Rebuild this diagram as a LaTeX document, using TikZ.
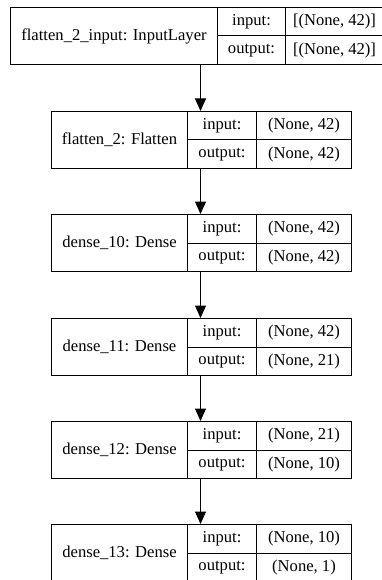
\documentclass[tikz,border=0pt]{standalone}
\usepackage{fontspec}
\setmainfont{Liberation Serif}
\usetikzlibrary{arrows.meta}
\newcommand\mklayer[9]{%
  \node[cell, minimum width={#3-#2}, minimum height=57] (#1) at (#2,#6) {#7};
  \node[cell, minimum width={#4-#3}, minimum height=28.5] (#1in) at (#3,#6) {input:};
  \node[cell, minimum width={#4-#3}, minimum height=28.5] (#1out) at (#3,#6+28.5) {output:};
  \node[cell, minimum width={#5-#4}, minimum height=28.5] (#1inv) at (#4,#6) {#8};
  \node[cell, minimum width={#5-#4}, minimum height=28.5] (#1outv) at (#4,#6+28.5) {#9};
}
\begin{document}
\begin{tikzpicture}[x=1pt,y=-1pt, font=\fontsize{16.6}{20}\selectfont,
  cell/.style={draw, line width=1pt, inner sep=0pt, anchor=north west},
  arr/.style={line width=1pt, -{Triangle[length=12.5pt,width=11pt]}}]
\useasboundingbox (0,0) rectangle (382,580);
\mklayer{a}{10}{217}{285}{383}{7}{flatten\_2\_input: InputLayer}{[(None, 42)]}{[(None, 42)]}
\mklayer{b}{51}{187}{256}{351}{111}{flatten\_2: Flatten}{(None, 42)}{(None, 42)}
\mklayer{c}{51}{187}{256}{351}{214}{dense\_10: Dense}{(None, 42)}{(None, 42)}
\mklayer{d}{51}{187}{256}{351}{318}{dense\_11: Dense}{(None, 42)}{(None, 21)}
\mklayer{e}{51}{187}{256}{351}{421}{dense\_12: Dense}{(None, 21)}{(None, 10)}
\mklayer{f}{51}{187}{256}{351}{524}{dense\_13: Dense}{(None, 10)}{(None, 1)}
\coordinate (ax) at (200.5,0);
\draw[arr] (ax |- a.south) -- (ax |- b.north);
\draw[arr] (ax |- b.south) -- (ax |- c.north);
\draw[arr] (ax |- c.south) -- (ax |- d.north);
\draw[arr] (ax |- d.south) -- (ax |- e.north);
\draw[arr] (ax |- e.south) -- (ax |- f.north);
\end{tikzpicture}
\end{document}
